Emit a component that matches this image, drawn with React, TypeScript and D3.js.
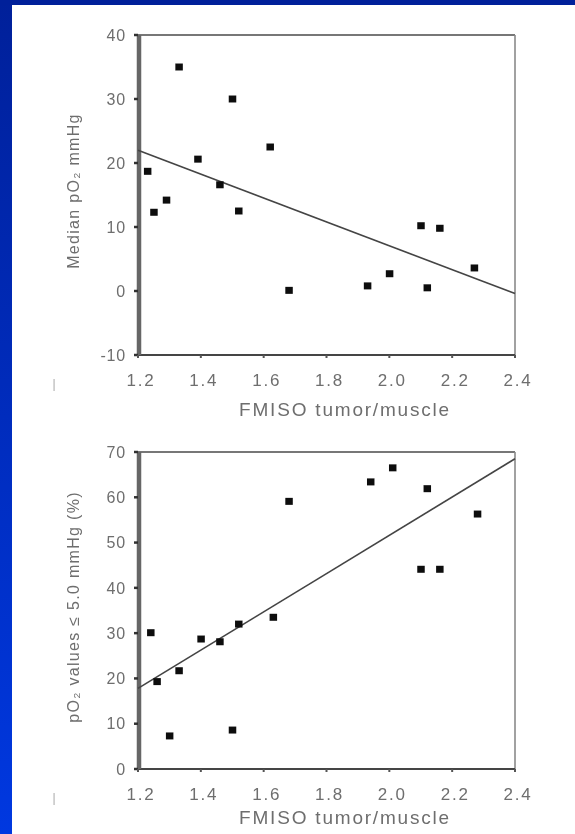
import React, { useEffect } from "react";
import * as d3 from "d3";

// x axis shared by both panels
const xTicks = [1.2, 1.4, 1.6, 1.8, 2.0, 2.2, 2.4];
const xTickLabels = ["1.2", "1.4", "1.6", "1.8", "2.0", "2.2", "2.4"];

// upper panel: median pO2 vs FMISO ratio
const ratioTop = [1.33, 1.5, 1.62, 1.23, 1.39, 1.46, 1.25, 1.29, 1.52, 1.68, 1.93, 2.0, 2.1, 2.16, 2.12, 2.27];
const medianPO2 = [35, 30, 22.5, 18.7, 20.6, 16.6, 12.3, 14.2, 12.5, 0.1, 0.8, 2.7, 10.2, 9.8, 0.5, 3.6];
const fitTopX = [1.2, 2.4];
const fitTopY = [22, -0.4];
const topYTicks = [40, 30, 20, 10, 0, -10];

// lower panel: % pO2 values <= 5.0 mmHg vs FMISO ratio
const ratioBottom = [1.24, 1.26, 1.3, 1.33, 1.4, 1.46, 1.5, 1.52, 1.63, 1.68, 1.94, 2.01, 2.1, 2.16, 2.12, 2.28];
const hypoxicPct = [30.1, 19.3, 7.3, 21.7, 28.7, 28.1, 8.6, 32, 33.5, 59.1, 63.4, 66.5, 44.1, 44.1, 61.9, 56.3];
const fitBottomX = [1.2, 2.4];
const fitBottomY = [17.8, 68.5];
const bottomYTicks = [70, 60, 50, 40, 30, 20, 10, 0];

const font = "'Liberation Sans', Arial, sans-serif";
const textColor = "#6e6e6e";

type PanelProps = {
  top: number;
  bottom: number;
  yDomain: [number, number];
  yTicks: number[];
  xs: number[];
  ys: number[];
  fitX: number[];
  fitY: number[];
  yTitle: string;
  yTitleCenter: number;
  xTitleGap: number;
};

function Panel({ top, bottom, yDomain, yTicks, xs, ys, fitX, fitY, yTitle, yTitleCenter, xTitleGap }: PanelProps) {
  const x = d3.scaleLinear().domain([1.2, 2.4]).range([138, 515]);
  const y = d3.scaleLinear().domain(yDomain).range([bottom, top]);
  const fitPath = d3.line()(fitX.map((v, i) => [x(v), y(fitY[i])] as [number, number])) || "";

  return (
    <g>
      {/* frame */}
      <line x1={138} x2={515} y1={top} y2={top} stroke="#777" strokeWidth={2} />
      <line x1={515} x2={515} y1={top} y2={bottom} stroke="#8a8a8a" strokeWidth={1.6} />
      <line x1={138} x2={515} y1={bottom} y2={bottom} stroke="#444" strokeWidth={2.2} />
      <line x1={139} x2={139} y1={top} y2={bottom} stroke="#666" strokeWidth={4.5} />

      {/* y ticks */}
      {yTicks.map((t) => (
        <g key={"y" + t}>
          <line x1={134} x2={138} y1={y(t)} y2={y(t)} stroke="#333" strokeWidth={2.5} />
          <text
            x={126}
            y={y(t)}
            dy="0.36em"
            textAnchor="end"
            fontSize={16}
            letterSpacing={0.8}
            fill={textColor}
            fontFamily={font}
          >
            {t}
          </text>
        </g>
      ))}

      {/* x ticks */}
      {xTicks.map((t, i) => (
        <g key={"x" + t}>
          <line x1={x(t)} x2={x(t)} y1={bottom} y2={bottom + 3} stroke="#555" strokeWidth={2} />
          <text
            x={x(t) + 3}
            y={bottom + 31}
            textAnchor="middle"
            fontSize={17}
            letterSpacing={1.8}
            fill={textColor}
            fontFamily={font}
          >
            {xTickLabels[i]}
          </text>
        </g>
      ))}

      {/* regression line */}
      <path d={fitPath} fill="none" stroke="#444" strokeWidth={1.6} />

      {/* points */}
      {xs.map((v, i) => (
        <rect key={i} x={x(v) - 3.5} y={y(ys[i]) - 3.5} width={7.5} height={7} fill="#111" />
      ))}

      {/* axis titles */}
      <text
        x={345}
        y={bottom + xTitleGap}
        textAnchor="middle"
        fontSize={19}
        letterSpacing={1.8}
        fill={textColor}
        fontFamily={font}
      >
        FMISO tumor/muscle
      </text>
      <text
        transform={`translate(79, ${yTitleCenter}) rotate(-90)`}
        textAnchor="middle"
        fontSize={16}
        letterSpacing={1.3}
        fill={textColor}
        fontFamily={font}
      >
        {yTitle}
      </text>
      <text x={54} y={bottom + 33} fontSize={12} fill="#aaa" fontFamily={font} textAnchor="middle">
        |
      </text>
    </g>
  );
}

export default function App() {
  useEffect(() => {
    document.body.style.margin = "0";
  }, []);

  return (
    <svg width={575} height={834} style={{ display: "block" }}>
      <defs>
        <linearGradient id="blueSide" x1="0" y1="0" x2="0" y2="1">
          <stop offset="0" stopColor="#00209a" />
          <stop offset="1" stopColor="#0038e0" />
        </linearGradient>
        <filter id="soft" x="-5%" y="-5%" width="110%" height="110%">
          <feGaussianBlur stdDeviation="0.55" />
        </filter>
      </defs>
      <rect x={0} y={0} width={575} height={834} fill="url(#blueSide)" />
      <rect x={0} y={0} width={575} height={5} fill="#00209a" />
      <rect x={12} y={5} width={563} height={829} fill="#ffffff" />
      <g filter="url(#soft)">
        <Panel
          top={35}
          bottom={355}
          yDomain={[-10, 40]}
          yTicks={topYTicks}
          xs={ratioTop}
          ys={medianPO2}
          fitX={fitTopX}
          fitY={fitTopY}
          yTitle="Median pO₂ mmHg"
          yTitleCenter={191}
          xTitleGap={61}
        />
        <Panel
          top={452}
          bottom={769}
          yDomain={[0, 70]}
          yTicks={bottomYTicks}
          xs={ratioBottom}
          ys={hypoxicPct}
          fitX={fitBottomX}
          fitY={fitBottomY}
          yTitle="pO₂ values ≤ 5.0 mmHg (%)"
          yTitleCenter={607}
          xTitleGap={55}
        />
      </g>
    </svg>
  );
}
